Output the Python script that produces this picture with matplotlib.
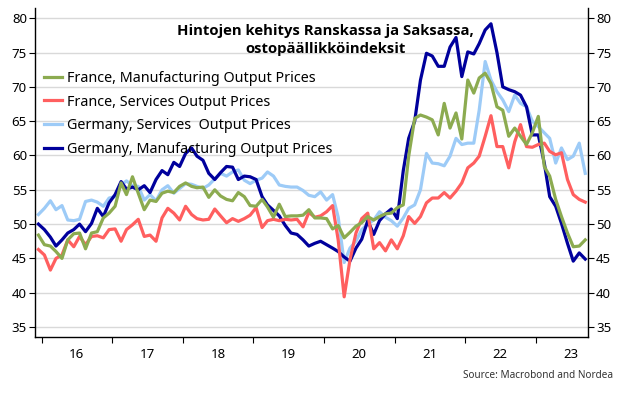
import matplotlib
matplotlib.use("Agg")
import matplotlib.pyplot as plt
import matplotlib.dates as mdates
import pandas as pd

# monthly PMI output price indices, Dec 2015 .. Sep 2023
months = pd.date_range("2015-12-01", periods=94, freq="MS") + pd.Timedelta(days=14)

france_manuf = [
    48.4, 47.0, 46.8, 46.0, 45.0, 47.7, 48.6, 48.7, 46.4, 48.7, 48.9, 50.9,
    51.6, 52.6, 56.0, 54.3, 56.9, 54.5, 52.1, 53.5, 53.3, 54.5, 54.8, 54.6,
    55.5, 56.0, 55.5, 55.3, 55.4, 53.9, 55.0, 54.1, 53.6, 53.4, 54.6, 54.0,
    52.7, 52.6, 53.6, 52.5, 51.0, 52.9, 51.1, 51.2, 51.2, 51.3, 52.1, 50.9,
    50.9, 50.8, 49.3, 49.8, 48.0, 48.8, 49.7, 50.2, 51.1, 50.6, 51.1, 51.5,
    51.6, 52.4, 52.8, 59.9, 65.4, 65.9, 65.6, 65.2, 63.0, 67.6, 64.0, 66.2,
    62.4, 71.0, 69.1, 71.3, 72.0, 70.5, 67.1, 66.6, 62.8, 64.0, 62.8, 61.6,
    63.3, 65.7, 58.4, 57.0, 53.6, 51.1, 48.7, 46.7, 46.8, 47.7,
]
france_serv = [
    46.3, 45.5, 43.3, 45.0, 45.5, 47.7, 46.7, 48.2, 47.0, 48.2, 48.3, 48.0,
    49.2, 49.3, 47.5, 49.2, 49.9, 50.7, 48.2, 48.4, 47.5, 50.9, 52.3, 51.6,
    50.6, 52.6, 51.4, 50.8, 50.6, 50.7, 52.2, 51.2, 50.2, 50.8, 50.4, 50.8,
    51.3, 52.4, 49.5, 50.5, 50.7, 50.5, 50.7, 50.6, 50.7, 49.6, 51.7, 51.0,
    51.2, 51.8, 52.7, 47.7, 39.4, 44.8, 48.7, 50.8, 51.6, 46.4, 47.3, 46.1,
    47.7, 46.4, 48.3, 51.1, 50.1, 51.1, 53.1, 53.8, 53.8, 54.6, 53.8, 54.8,
    56.0, 58.2, 58.9, 59.9, 62.8, 65.8, 61.3, 61.3, 58.2, 62.0, 64.5, 61.3,
    61.2, 61.6, 61.8, 60.6, 60.1, 60.4, 56.5, 54.3, 53.6, 53.2,
]
germany_serv = [
    51.4, 52.3, 53.4, 52.1, 52.7, 50.6, 50.5, 50.7, 53.3, 53.5, 53.2, 52.6,
    53.8, 54.0, 55.7, 56.3, 55.6, 55.5, 53.5, 54.3, 53.4, 55.0, 55.6, 54.5,
    55.2, 55.9, 55.8, 55.5, 55.2, 55.7, 56.6, 57.4, 57.0, 57.6, 57.9, 56.4,
    55.9, 56.4, 56.7, 57.6, 57.0, 55.7, 55.5, 55.4, 55.4, 54.9, 54.2, 54.0,
    54.7, 53.5, 54.3, 51.0, 44.4, 46.5, 47.5, 49.2, 50.0, 50.6, 51.8, 51.0,
    50.5, 49.7, 50.9, 52.3, 52.8, 55.0, 60.3, 58.9, 58.8, 58.5, 59.9, 62.5,
    61.6, 61.8, 61.8, 66.6, 73.7, 71.0, 69.3, 68.1, 66.4, 68.8, 67.6, 67.1,
    65.0, 64.2, 63.3, 62.5, 58.9, 61.1, 59.4, 59.9, 61.8, 57.4,
]
germany_manuf = [
    50.0, 49.2, 48.1, 46.8, 47.7, 48.7, 49.2, 50.0, 48.9, 50.1, 52.3, 51.1,
    53.1, 54.3, 56.2, 55.1, 55.4, 55.0, 55.6, 54.6, 56.5, 57.8, 57.2, 59.0,
    58.4, 60.3, 61.1, 59.9, 59.3, 57.4, 56.5, 57.5, 58.4, 58.3, 56.5, 57.0,
    56.9, 56.5, 54.0, 52.8, 52.0, 51.2, 49.8, 48.7, 48.5, 47.7, 46.8, 47.2,
    47.5, 47.0, 46.5, 46.0, 45.2, 44.6, 46.5, 47.8, 50.5, 48.5, 50.5, 51.5,
    52.2, 50.8, 57.8, 62.5, 65.0, 71.0, 74.9, 74.5, 73.0, 73.0, 75.8, 77.2,
    71.5, 75.1, 74.8, 76.3, 78.3, 79.2, 75.0, 70.0, 69.6, 69.3, 68.8, 67.1,
    63.0, 63.0, 58.9, 54.0, 52.6, 50.1, 47.2, 44.6, 45.8, 44.9,
]

labels = [
    "France, Manufacturing Output Prices",
    "France, Services Output Prices",
    "Germany, Services  Output Prices",
    "Germany, Manufacturing Output Prices",
]
colors = ["#8CAB50", "#FF5F5F", "#9DCBF7", "#00009C"]

plt.rcParams["font.family"] = ["Noto Sans", "DejaVu Sans"]

fig = plt.figure(figsize=(6.24, 3.94), dpi=100)
ax = fig.add_axes([0.0566, 0.1439, 0.8853, 0.8358])

series = [france_manuf, france_serv, germany_serv, germany_manuf]
for vals, lab, col, z in zip(series, labels, colors, [5, 4, 2, 3]):
    ax.plot(months, vals, color=col, lw=2.3, label=lab, zorder=z)

ax.set_ylim(33.5, 81.5)
ax.set_xlim(pd.Timestamp("2015-11-29"), pd.Timestamp("2023-09-28"))
ax.set_yticks(range(35, 81, 5))
ax.yaxis.grid(True, color="#d9d9d9", lw=1)
ax.set_axisbelow(True)
ax.tick_params(axis="y", which="both", left=True, right=True,
               labelleft=True, labelright=True, length=4, labelsize=9.5,
               direction="out", pad=2)

ax.xaxis.set_major_locator(mdates.YearLocator())
ax.xaxis.set_major_formatter(plt.NullFormatter())
ax.xaxis.set_minor_locator(mdates.MonthLocator(bymonth=7))
ax.xaxis.set_minor_formatter(mdates.DateFormatter("%y"))
ax.tick_params(axis="x", which="major", length=4, direction="out")
ax.tick_params(axis="x", which="minor", length=0, labelsize=9.5, pad=8)

ax.spines["top"].set_visible(False)
for s in ["left", "right", "bottom"]:
    ax.spines[s].set_color("black")
    ax.spines[s].set_linewidth(1)

ax.legend(loc="upper left", bbox_to_anchor=(0.0, 0.835), frameon=False,
          fontsize=10.3, handlelength=1.3, handletextpad=0.3,
          labelspacing=0.6, borderaxespad=0.2)

fig.text(0.522, 0.94, "Hintojen kehitys Ranskassa ja Saksassa,\nostopäällikköindeksit",
         ha="center", va="top", fontsize=10.7, fontweight="bold",
         family=["Open Sans", "DejaVu Sans"], linespacing=1.4)
fig.text(0.982, 0.033, "Source: Macrobond and Nordea", ha="right", va="bottom",
         fontsize=7.2, color="#333333")

fig.savefig("out.png", dpi=100)
plt.close(fig)
